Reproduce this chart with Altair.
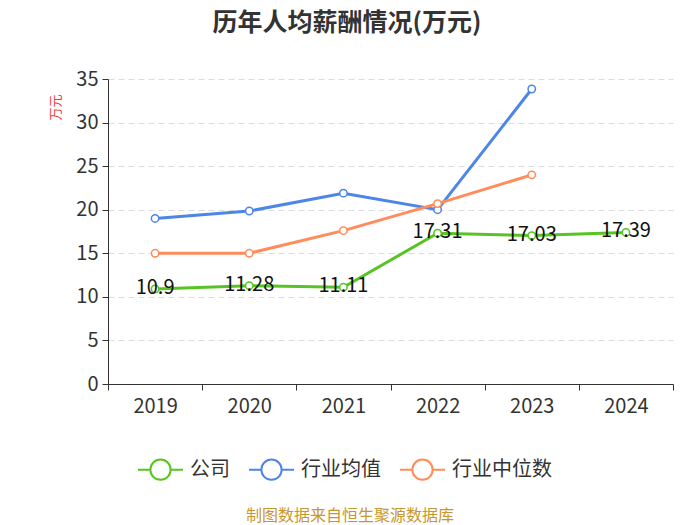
import altair as alt
import pandas as pd

years = ["2019", "2020", "2021", "2022", "2023", "2024"]
series_names = ["公司", "行业均值", "行业中位数"]
company = [10.9, 11.28, 11.11, 17.31, 17.03, 17.39]
industry_avg = [19.0, 19.85, 21.9, 20.0, 33.85]
industry_median = [15.0, 15.0, 17.6, 20.7, 24.0]
colors = ["#58c423", "#4e86e8", "#ff8c5a"]
title_text = "历年人均薪酬情况(万元)"
footer_text = "制图数据来自恒生聚源数据库"

rows = []
for name, vals in zip(series_names, [company, industry_avg, industry_median]):
    for y, v in zip(years, vals):
        rows.append({"year": y, "series": name, "value": v})
df = pd.DataFrame(rows)
df_company = df[df.series == "公司"]

FONT = "Noto Sans CJK SC"

x_enc = alt.X("year:O", scale=alt.Scale(type="band", domain=years, paddingInner=0, paddingOuter=0),
              axis=alt.Axis(title=None, labelAngle=0, tickBand="extent", labelFontSize=20,
                            labelColor="#333", labelFont=FONT, domainColor="#333", tickColor="#333",
                            tickSize=6, labelPadding=6, grid=False))
y_enc = alt.Y("value:Q", scale=alt.Scale(domain=[0, 35], nice=False),
              axis=alt.Axis(title="万元", values=[0, 5, 10, 15, 20, 25, 30, 35], labelFontSize=20,
                            labelColor="#333", labelFont=FONT, domainColor="#333", tickColor="#333",
                            tickSize=6, labelPadding=4, gridDash=[6, 4], gridColor="#dcdcdc",
                            titleColor="#f03a3a", titleFont=FONT, titleFontSize=13, titleFontWeight="normal",
                            titleAngle=-90, titleX=-53, titleY=28, titleAlign="center",
                            titleBaseline="middle"))
color_scale = alt.Scale(domain=series_names, range=colors)

legend_path = "M-1,0L-0.45,0M0.45,0A0.45,0.45 0 1 1 -0.45,0A0.45,0.45 0 1 1 0.45,0M0.45,0L1,0"

lines = alt.Chart(df).mark_line(strokeWidth=3).encode(
    x=x_enc, y=y_enc,
    color=alt.Color("series:N", scale=color_scale, sort=series_names,
                    legend=alt.Legend(title=None, orient="none", direction="horizontal",
                                      legendX=29, legendY=367, symbolType=legend_path,
                                      symbolSize=2025, symbolStrokeWidth=2, symbolFillColor="white",
                                      labelFontSize=20, labelFont=FONT, labelColor="#333",
                                      labelOffset=6, columnPadding=15)),
)
points = alt.Chart(df).mark_point(filled=False, fill="white", size=55, strokeWidth=1.5, opacity=1).encode(
    x=x_enc, y=y_enc,
    color=alt.Color("series:N", scale=color_scale, legend=None),
)
labels = alt.Chart(df_company).mark_text(fontSize=20, font=FONT, color="#111", baseline="middle", dy=-1).encode(
    x=x_enc, y=y_enc, text=alt.Text("value:Q", format="")
)
title = alt.Chart(pd.DataFrame({"t": [title_text]})).mark_text(
    fontSize=25, font=FONT, fontWeight="bold", color="#333", baseline="middle"
).encode(x=alt.value(239), y=alt.value(-56), text="t:N")
footer = alt.Chart(pd.DataFrame({"t": [footer_text]})).mark_text(
    fontSize=16, font=FONT, color="#c8962e", baseline="middle"
).encode(x=alt.value(242), y=alt.value(437), text="t:N")

chart = alt.layer(lines, points, labels, title, footer).properties(
    width=565, height=305,
    autosize=alt.AutoSizeParams(type="none"),
    padding={"left": 100, "top": 71, "right": 19, "bottom": 146},
).configure_view(stroke=None)

chart.save("out.html", embed_options={"renderer": "svg", "actions": False})
